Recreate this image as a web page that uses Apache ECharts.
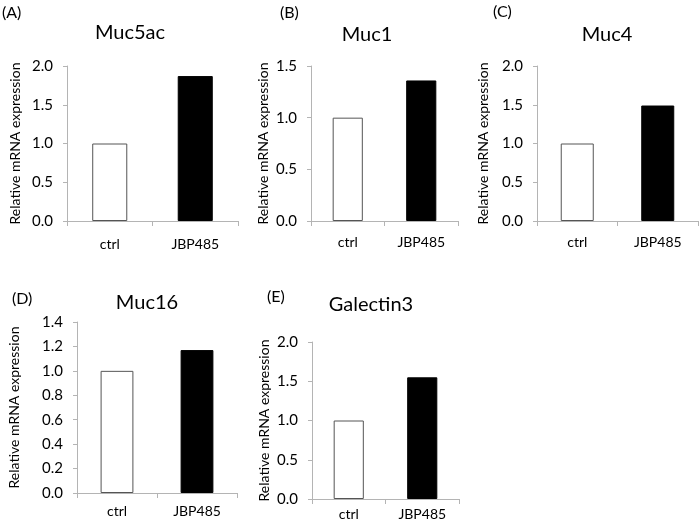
<!DOCTYPE html>
<html>
<head>
<meta charset="utf-8">
<script src="https://cdn.jsdelivr.net/npm/echarts@6/dist/echarts.min.js"></script>
<style>html,body{margin:0;padding:0;background:#fff;}#c{width:700px;height:524px;}</style>
</head>
<body>
<div id="c"></div>
<script>
const categories = ['ctrl', 'JBP485'];
const panelLabels = ['(A)', '(B)', '(C)', '(D)', '(E)'];
const titles = ['Muc5ac', 'Muc1', 'Muc4', 'Muc16', 'Galectin3'];
const valuesMuc5ac = [1.0, 1.87];
const valuesMuc1 = [1.0, 1.36];
const valuesMuc4 = [1.0, 1.49];
const valuesMuc16 = [1.0, 1.17];
const valuesGalectin3 = [1.0, 1.55];
const yMax = [2.0, 1.5, 2.0, 1.4, 2.0];
const yInterval = [0.5, 0.5, 0.5, 0.2, 0.5];
const yName = 'Relative mRNA expression';

const allValues = [valuesMuc5ac, valuesMuc1, valuesMuc4, valuesMuc16, valuesGalectin3];

const FONT = 'Lato';
const grids = [
  {left: 67, top: 66, width: 171, height: 155},
  {left: 311, top: 66, width: 147, height: 155},
  {left: 537, top: 66, width: 161, height: 155},
  {left: 77, top: 322, width: 160, height: 171},
  {left: 312, top: 342, width: 147, height: 157}
];
const labelMargins = [16, 14, 14, 11, 8];
const nameGaps = [45, 41, 47, 56, 41];
const titlePos = [[130, 33], [367, 35], [607, 35], [147, 303], [371, 305]];
const panelPos = [[2, 13], [280, 13], [493, 12], [12, 299], [267, 297]];

const axisColor = '#b4b4b4';
const option = {
  backgroundColor: '#fff',
  animation: false,
  grid: grids.map(g => Object.assign({containLabel: false}, g)),
  xAxis: grids.map((g, i) => ({
    type: 'category', gridIndex: i, data: categories,
    axisLine: {lineStyle: {color: axisColor, width: 1}},
    axisTick: {show: true, length: 5, lineStyle: {color: axisColor}},
    axisLabel: {color: '#000', fontFamily: FONT, fontSize: 14, margin: labelMargins[i]}
  })),
  yAxis: grids.map((g, i) => ({
    type: 'value', gridIndex: i, min: 0, max: yMax[i], interval: yInterval[i],
    name: yName, nameLocation: 'middle', nameGap: nameGaps[i],
    nameTextStyle: {color: '#000', fontFamily: FONT, fontSize: 14},
    axisLine: {show: true, lineStyle: {color: axisColor, width: 1}},
    axisTick: {show: true, length: 4, lineStyle: {color: axisColor}},
    splitLine: {show: false},
    axisLabel: {color: '#000', fontFamily: FONT, fontSize: 15, margin: 14,
      formatter: v => v.toFixed(1)}
  })),
  series: allValues.map((vals, i) => ({
    type: 'bar', xAxisIndex: i, yAxisIndex: i, barWidth: '41%',
    data: vals.map((v, j) => ({
      value: v,
      itemStyle: j === 0
        ? {color: '#fff', borderColor: '#555', borderWidth: 1}
        : {color: '#000', borderColor: '#000', borderWidth: 1}
    }))
  })),
  graphic: titles.map((t, i) => ({
    type: 'text', x: titlePos[i][0], y: titlePos[i][1],
    style: {text: t, fill: '#000', font: '20px ' + FONT, textAlign: 'center', textVerticalAlign: 'middle'}
  })).concat(panelLabels.map((t, i) => ({
    type: 'text', x: panelPos[i][0], y: panelPos[i][1],
    style: {text: t, fill: '#000', font: '16px ' + FONT, textAlign: 'left', textVerticalAlign: 'middle'}
  })))
};
const chart = echarts.init(document.getElementById('c'), null, {renderer: 'canvas'});
chart.setOption(option);
</script>
</body>
</html>
